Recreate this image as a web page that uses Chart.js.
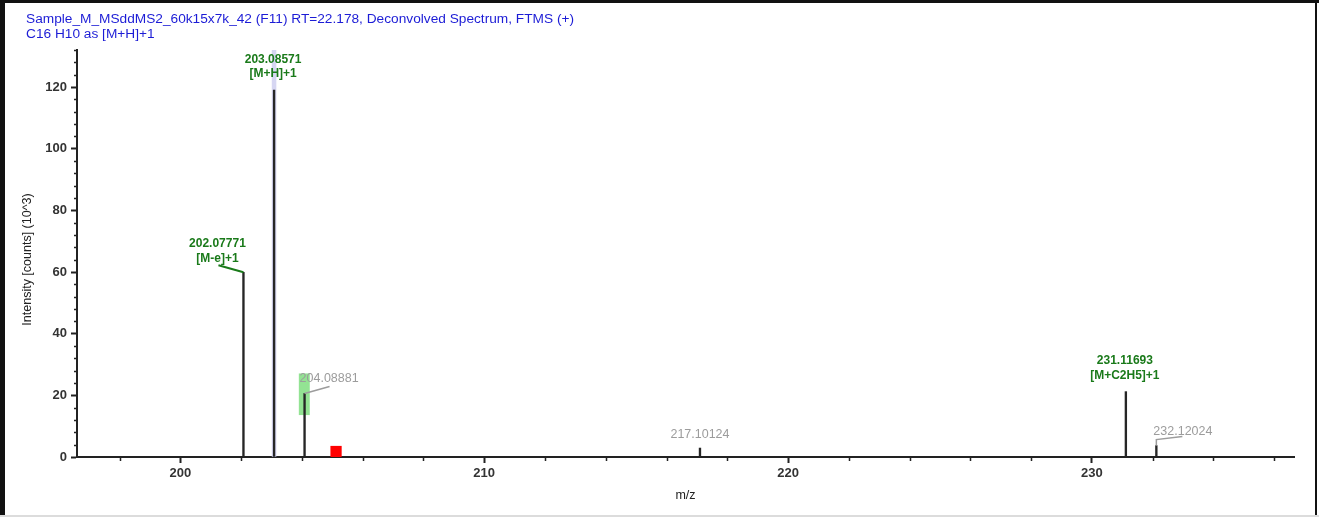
<!DOCTYPE html>
<html>
<head>
<meta charset="utf-8">
<script src="https://cdn.jsdelivr.net/npm/chart.js@4"></script>
<style>
  html, body { margin: 0; padding: 0; background: #fff; }
  #wrap { position: relative; width: 1319px; height: 517px; }
</style>
</head>
<body>
<div id="wrap"><canvas id="spec" width="1319" height="517"></canvas></div>
<script>
// peaks (m/z, intensity in 10^3 counts)
const mzValues    = [202.07771, 203.08571, 204.08881, 217.10124, 231.11693, 232.12024];
const intensities = [59.9, 119.0, 20.6, 2.9, 21.2, 3.7];
const peakLabels  = [['202.07771', '[M-e]+1'], ['203.08571', '[M+H]+1'], ['204.08881'],
                     ['217.10124'], ['231.11693', '[M+C2H5]+1'], ['232.12024']];
const assigned    = [true, true, false, false, true, false];

// highlight boxes (m/z from, m/z to, intensity from, intensity to)
const boxMzFrom  = [203.01, 203.90, 204.94];
const boxMzTo    = [203.16, 204.26, 205.31];
const boxIntFrom = [0, 13.6, 0];
const boxIntTo   = [132, 27.1, 3.6];
const boxColors  = ['rgba(200,200,238,0.75)', 'rgba(120,220,120,0.8)', '#ff0000'];

const xTicks = [200, 210, 220, 230];
const yTicks = [0, 20, 40, 60, 80, 100, 120];

const titleLines = ['Sample_M_MSddMS2_60k15x7k_42 (F11) RT=22.178, Deconvolved Spectrum, FTMS (+)',
                    'C16 H10 as [M+H]+1'];

const FONT = "'Liberation Sans', Arial, sans-serif";
const GREEN = '#1a7a1a';
const GREY = '#9c9c9c';

// label offsets from the peak top, in px
const labelPlace = [
  {dx: -26, dy: -14, align: 'center', leader: [[0, 0], [-25, -7]]},
  {dx: -1,  dy: -16, align: 'center', leader: null},
  {dx: -5,  dy: -15, align: 'left',   leader: [[0, 0], [25, -7]]},
  {dx: 0,   dy: -14, align: 'center', leader: null},
  {dx: -1,  dy: -16, align: 'center', leader: null},
  {dx: -3,  dy: -14, align: 'left',   leader: [[0, 0], [0, -6], [26, -9]]}
];

const boxPlugin = {
  id: 'boxes',
  beforeDatasetsDraw(chart) {
    const {ctx, scales: {x, y}} = chart;
    ctx.save();
    boxMzFrom.forEach((m, i) => {
      const x0 = x.getPixelForValue(m), x1 = x.getPixelForValue(boxMzTo[i]);
      const y0 = y.getPixelForValue(boxIntTo[i]), y1 = y.getPixelForValue(boxIntFrom[i]);
      ctx.fillStyle = boxColors[i];
      ctx.fillRect(x0, y0, x1 - x0, y1 - y0);
    });
    ctx.restore();
  }
};

const decoPlugin = {
  id: 'deco',
  afterDraw(chart) {
    const {ctx, chartArea: a, scales: {x, y}} = chart;
    ctx.save();

    // minor ticks
    ctx.strokeStyle = '#222';
    ctx.lineWidth = 1.5;
    ctx.beginPath();
    for (let v = 4; v <= y.max; v += 4) {
      if (v % 20 === 0) continue;
      const py = Math.round(y.getPixelForValue(v)) + 0.5;
      ctx.moveTo(a.left - 3, py); ctx.lineTo(a.left, py);
    }
    for (let v = Math.ceil(x.min / 2) * 2; v <= x.max; v += 2) {
      if (v % 10 === 0) continue;
      const px = Math.round(x.getPixelForValue(v)) + 0.5;
      ctx.moveTo(px, a.bottom); ctx.lineTo(px, a.bottom + 4);
    }
    ctx.stroke();

    // peak annotations
    mzValues.forEach((m, i) => {
      const px = x.getPixelForValue(m), py = y.getPixelForValue(intensities[i]);
      const p = labelPlace[i];
      const col = assigned[i] ? GREEN : GREY;
      if (p.leader) {
        ctx.strokeStyle = col;
        ctx.lineWidth = assigned[i] ? 2 : 1.5;
        ctx.beginPath();
        p.leader.forEach(([lx, ly], k) => k ? ctx.lineTo(px + lx, py + ly) : ctx.moveTo(px + lx, py + ly));
        ctx.stroke();
      }
      ctx.fillStyle = col;
      ctx.font = (assigned[i] ? 'bold 12px ' : '12.5px ') + FONT;
      ctx.textAlign = p.align;
      ctx.textBaseline = 'middle';
      const lines = peakLabels[i];
      lines.forEach((t, k) => {
        ctx.fillText(t, px + p.dx, py + p.dy - (lines.length - 1 - k) * 14.5);
      });
    });

    // title
    ctx.fillStyle = '#1c1cd6';
    ctx.font = '13.7px ' + FONT;
    ctx.textAlign = 'left';
    ctx.textBaseline = 'middle';
    titleLines.forEach((t, k) => ctx.fillText(t, 26, 19 + k * 15));

    // axis titles
    ctx.fillStyle = '#222';
    ctx.font = '12.5px ' + FONT;
    ctx.textAlign = 'center';
    ctx.fillText('m/z', (a.left + a.right) / 2, 496);
    ctx.save();
    ctx.translate(28, (a.top + a.bottom) / 2 + 6);
    ctx.rotate(-Math.PI / 2);
    ctx.fillText('Intensity [counts] (10^3)', 0, 0);
    ctx.restore();

    // frame
    ctx.fillStyle = '#111';
    ctx.fillRect(0, 0, 5, 517);
    ctx.fillRect(0, 0, 1319, 3);
    ctx.fillRect(1315, 0, 2, 517);
    ctx.fillStyle = '#dcdcdc';
    ctx.fillRect(0, 515, 1319, 2);
    ctx.restore();
  }
};

const ctxS = document.getElementById('spec').getContext('2d');
new Chart(ctxS, {
  type: 'bar',
  data: {
    datasets: [{
      data: mzValues.map((m, i) => ({x: m, y: intensities[i]})),
      backgroundColor: '#262626',
      barThickness: 1.7,
      borderWidth: 0
    }]
  },
  options: {
    responsive: false,
    animation: false,
    layout: {padding: {top: 50, right: 25, left: 0, bottom: 0}},
    plugins: {legend: {display: false}, tooltip: {enabled: false}},
    scales: {
      x: {
        type: 'linear',
        min: 196.6,
        max: 236.65,
        offset: false,
        afterBuildTicks: s => { s.ticks = xTicks.map(v => ({value: v})); },
        afterFit: s => { s.height = 60; },
        grid: {offset: false, drawOnChartArea: false, tickLength: 6, tickColor: '#222', tickWidth: 2},
        border: {display: true, color: '#222', width: 2},
        ticks: {color: '#333', font: {family: FONT, size: 13, weight: 'bold'}, padding: 3, maxRotation: 0}
      },
      y: {
        min: 0,
        max: 132,
        afterBuildTicks: s => { s.ticks = yTicks.map(v => ({value: v})); },
        afterFit: s => { s.width = 77; },
        grid: {drawOnChartArea: false, tickLength: 6, tickColor: '#222', tickWidth: 2},
        border: {display: true, color: '#222', width: 2},
        ticks: {color: '#333', font: {family: FONT, size: 13, weight: 'bold'}, padding: 4}
      }
    }
  },
  plugins: [boxPlugin, decoPlugin]
});
</script>
</body>
</html>
